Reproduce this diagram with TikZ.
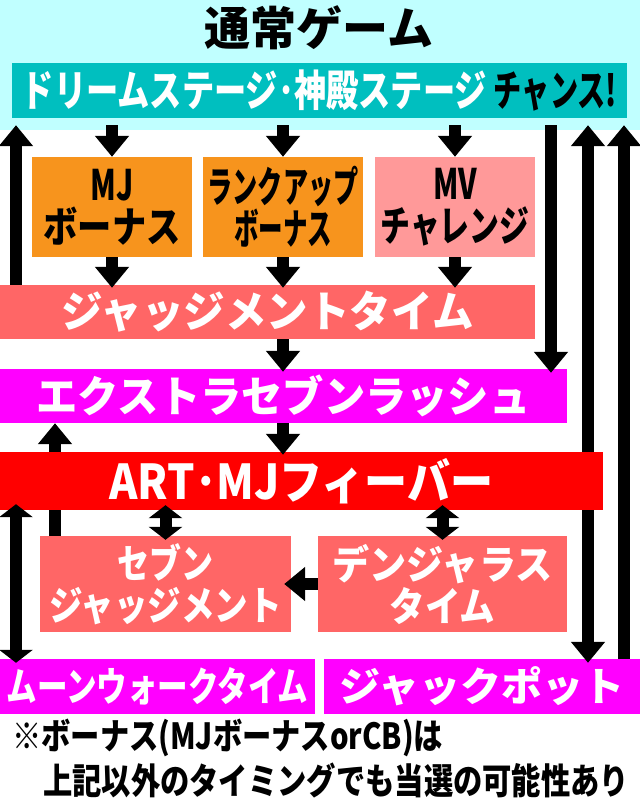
\documentclass[tikz,border=0pt]{standalone}
\usepackage{fontspec}
\setmainfont{Noto Sans CJK JP}[BoldFont={Noto Sans CJK JP Black}]
\usepackage{graphicx}
\usetikzlibrary{arrows.meta, positioning}
\definecolor{skybg}{RGB}{192, 255, 255}
\definecolor{tealbar}{RGB}{0, 191, 191}
\definecolor{orangebox}{RGB}{247, 148, 29}
\definecolor{pinkbox}{RGB}{255, 153, 153}
\definecolor{salmon}{RGB}{255, 102, 102}
\definecolor{magentabar}{RGB}{255, 0, 255}
\definecolor{redbar}{RGB}{255, 0, 0}
\newcommand{\fitw}[2]{\resizebox{#1}{\height}{#2}}
\pgfdeclarelayer{behind}
\pgfsetlayers{behind,main}

\begin{document}
\begin{tikzpicture}[x=1pt, y=-1pt,
  bar/.style={inner sep=0pt, minimum height=55pt, text=white, font=\bfseries\fontsize{43}{44}\selectfont},
  box/.style={inner sep=0pt, minimum width=160pt, minimum height=100pt, align=center, font=\bfseries\fontsize{42}{42}\selectfont},
  arr/.style={line width=12pt, -{Triangle[width=33pt, length=21pt]}},
  dblarr/.style={line width=12pt, {Triangle[width=33pt, length=13pt]}-{Triangle[width=33pt, length=13pt]}}]
  \useasboundingbox (0,0) rectangle (640,809);
  \begin{pgfonlayer}{behind}
    \fill[white] (0,0) rectangle (640,809);
    \fill[skybg] (0,0) rectangle (640,130);
  \end{pgfonlayer}

  % Top: normal game
  \node[font=\bfseries\fontsize{46}{48}\selectfont] (title) at (319,28) {通常ゲーム};
  \node[bar, fill=tealbar, minimum width=615pt] (stage) at (319.5,90.5)
    {\fitw{465pt}{ドリームステージ･神殿ステージ}\hspace{7pt}\textcolor{black}{\fitw{123pt}{チャンス!}}};

  % Chances
  \node[box, fill=orangebox] (mjbonus) at (112,207) {\fitw{43pt}{MJ}\\\fitw{137pt}{ボーナス}};
  \node[box, fill=orangebox] (rankup) at (283,207) {\fitw{151pt}{ランクアップ}\\\fitw{98pt}{ボーナス}};
  \node[box, fill=pinkbox] (mvchal) at (455,207) {\fitw{44pt}{MV}\\\fitw{149pt}{チャレンジ}};

  % Bars
  \node[bar, fill=salmon, minimum width=535pt, minimum height=54pt] (judge) at (267.5,312) {\fitw{412pt}{ジャッジメントタイム}};
  \node[bar, fill=magentabar, minimum width=567pt, minimum height=54pt] (extra) at (283.5,396) {\fitw{494pt}{エクストラセブンラッシュ}};
  \node[bar, fill=redbar, minimum width=603pt, minimum height=58pt, font=\bfseries\fontsize{48}{48}\selectfont] (fever) at (301.5,481) {\fitw{384pt}{ART･MJフィーバー}};

  % During ART
  \node[box, fill=salmon, text=white, minimum width=251pt, minimum height=96pt, font=\bfseries\fontsize{40}{42}\selectfont] (sevenj) at (165.5,584) {\fitw{96pt}{セブン}\\\fitw{233pt}{ジャッジメント}};
  \node[box, fill=salmon, text=white, minimum width=249pt, minimum height=96pt, font=\bfseries\fontsize{40}{42}\selectfont] (danger) at (442.5,584) {\fitw{220pt}{デンジャラス}\\\fitw{106pt}{タイム}};
  \node[bar, fill=magentabar, minimum width=315pt, font=\bfseries\fontsize{40}{42}\selectfont] (moonwalk) at (157.5,686.5) {\fitw{302pt}{ムーンウォークタイム}};
  \node[bar, fill=magentabar, minimum width=316pt, font=\bfseries\fontsize{40}{42}\selectfont] (jackpot) at (482,686.5) {\fitw{285pt}{ジャックポット}};

  % Note
  \node[anchor=west, inner sep=0pt, font=\bfseries\fontsize{36}{38}\selectfont] (note1) at (12,738) {\fitw{431pt}{※ボーナス(MJボーナスorCB)は}};
  \node[anchor=west, inner sep=0pt, font=\bfseries\fontsize{36}{38}\selectfont] (note2) at (43,780) {\fitw{586pt}{上記以外のタイミングでも当選の可能性あり}};

  % Lanes
  \coordinate (lane1) at (16,0);
  \coordinate (lane2) at (55,0);
  \coordinate (lane3) at (551,0);
  \coordinate (lane4) at (588,0);
  \coordinate (lane5) at (624,0);

  % Arrows
  \draw[arr, shorten <=7pt] (stage.south -| mjbonus) -- (mjbonus.north);
  \draw[arr, shorten <=7pt] (stage.south -| rankup) -- (rankup.north);
  \draw[arr, shorten <=7pt] (stage.south -| mvchal) -- (mvchal.north);
  \draw[arr, shorten >=-3pt] (mjbonus.south) -- (judge.north -| mjbonus);
  \draw[arr, shorten >=-3pt] (rankup.south) -- (judge.north -| rankup);
  \draw[arr, shorten >=-3pt] (mvchal.south) -- (judge.north -| mvchal);
  \draw[arr, shorten >=-3pt] (judge.south -| rankup) -- (extra.north -| rankup);
  \draw[arr, shorten >=-3pt] (extra.south -| rankup) -- (fever.north -| rankup);
  \draw[arr, shorten >=7pt] (judge.north -| lane1) -- (stage.south -| lane1);
  \draw[arr, shorten <=7pt, shorten >=-4pt] (stage.south -| lane3) -- (extra.north -| lane3);
  \draw[arr, shorten >=7pt] (fever.north -| lane4) -- (stage.south -| lane4);
  \draw[arr, shorten >=-4pt] (fever.south -| lane4) -- (jackpot.north -| lane4);
  \draw[arr, shorten >=7pt] (jackpot.north -| lane5) -- (stage.south -| lane5);
  \draw[dblarr, shorten <=-6pt, shorten >=-4pt] (fever.south -| lane1) -- (moonwalk.north -| lane1);
  \draw[dblarr, shorten <=-5pt, shorten >=-4pt] (fever.south -| sevenj) -- (sevenj.north);
  \draw[dblarr, shorten <=-5pt, shorten >=-4pt] (fever.south -| danger) -- (danger.north);
  \draw[arr, shorten >=-7pt] (danger.west) -- (sevenj.east);
  \begin{pgfonlayer}{behind}
    \draw[arr] (sevenj.north -| lane2) -- (extra.south -| lane2);
  \end{pgfonlayer}
\end{tikzpicture}
\end{document}
